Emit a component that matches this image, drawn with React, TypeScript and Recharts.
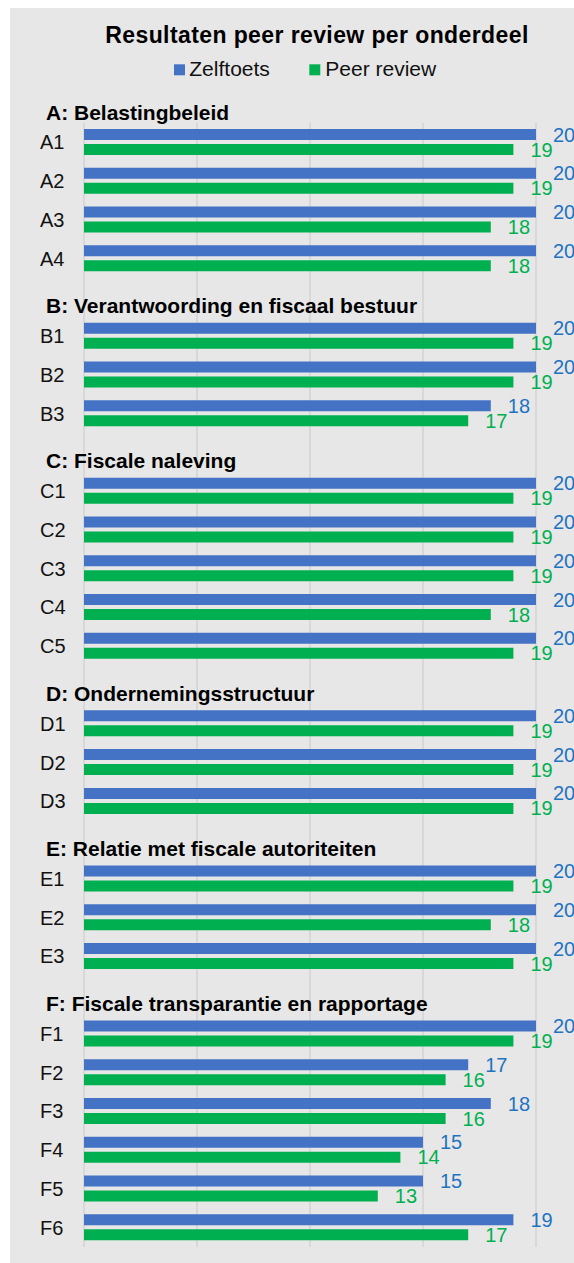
import { BarChart, Bar, XAxis, YAxis, CartesianGrid, LabelList } from 'recharts';

const categories = [
  'A: Belastingbeleid', 'A1', 'A2', 'A3', 'A4',
  'B: Verantwoording en fiscaal bestuur', 'B1', 'B2', 'B3',
  'C: Fiscale naleving', 'C1', 'C2', 'C3', 'C4', 'C5',
  'D: Ondernemingsstructuur', 'D1', 'D2', 'D3',
  'E: Relatie met fiscale autoriteiten', 'E1', 'E2', 'E3',
  'F: Fiscale transparantie en rapportage', 'F1', 'F2', 'F3', 'F4', 'F5', 'F6',
];

const zelftoets = [
  null, 20, 20, 20, 20,
  null, 20, 20, 18,
  null, 20, 20, 20, 20, 20,
  null, 20, 20, 20,
  null, 20, 20, 20,
  null, 20, 17, 18, 15, 15, 19,
];

const peerReview = [
  null, 19, 19, 18, 18,
  null, 19, 19, 17,
  null, 19, 19, 19, 18, 19,
  null, 19, 19, 19,
  null, 19, 18, 19,
  null, 19, 16, 16, 14, 13, 17,
];

const seriesNames = ['Zelftoets', 'Peer review'];
const xTicks = [0, 5, 10, 15, 20];

const data = categories.map((name, i) => ({
  name,
  zelftoets: zelftoets[i],
  peerReview: peerReview[i],
}));

const FONT = 'Arial, "Liberation Sans", sans-serif';
const BLUE = '#4472c4';
const GREEN = '#00b050';

function CategoryTick(props: any) {
  const { y, payload } = props;
  const label: string = payload.value;
  const isHeader = label.includes(':');
  if (isHeader) {
    return (
      <text x={36} y={y} dy={16} fontSize={21} fontWeight="bold" fill="#000" fontFamily={FONT}>
        {label}
      </text>
    );
  }
  return (
    <text x={30} y={y} dy={7} fontSize={20} fill="#111" fontFamily={FONT}>
      {label}
    </text>
  );
}

const fmt = (v: any) => (v === null || v === undefined ? '' : v);

export default function App() {
  const plotTop = 76.2;
  const plotBottom = 1239;
  const rowH = (plotBottom - plotTop) / categories.length;
  return (
    <div
      style={{
        position: 'fixed',
        left: 10,
        top: 8,
        width: 564,
        height: 1255,
        background: '#e7e7e7',
        fontFamily: FONT,
        overflow: 'visible',
      }}
    >
      <svg width={564} height={80} style={{ position: 'absolute', left: 0, top: 0 }}>
        <text x={307} y={35.3} textAnchor="middle" fontSize={23} fontWeight="bold" letterSpacing={0.4} fill="#000" fontFamily={FONT}>
          Resultaten peer review per onderdeel
        </text>
        <rect x={164} y={56.3} width={11} height={11} fill={BLUE} />
        <text x={179.3} y={67.7} fontSize={21} fill="#111" fontFamily={FONT}>{seriesNames[0]}</text>
        <rect x={299.3} y={56.3} width={11} height={11} fill={GREEN} />
        <text x={315.3} y={67.7} fontSize={21} fill="#111" fontFamily={FONT}>{seriesNames[1]}</text>
      </svg>
      <div style={{ position: 'absolute', left: 0, top: 0 }}>
        <BarChart
          width={564}
          height={1255}
          data={data}
          layout="vertical"
          margin={{ top: plotTop, right: 38, bottom: 1255 - plotBottom, left: 0 }}
          barSize={11}
          barGap={4}
          style={{ overflow: 'visible' }}
        >
          <CartesianGrid
            horizontal={false}
            stroke="#d3d3d3"
            strokeWidth={1.5}
            y={plotTop + rowH}
            height={plotBottom - plotTop - rowH}
          />
          <XAxis type="number" domain={[0, 20]} ticks={xTicks} hide />
          <YAxis
            type="category"
            dataKey="name"
            width={74}
            axisLine={false}
            tickLine={false}
            interval={0}
            tick={<CategoryTick />}
          />
          <Bar dataKey="zelftoets" name={seriesNames[0]} fill={BLUE} isAnimationActive={false}>
            <LabelList
              dataKey="zelftoets"
              position="right"
              offset={17}
              fill="#1f73c1"
              fontSize={20}
              fontFamily={FONT}
              formatter={fmt}
            />
          </Bar>
          <Bar dataKey="peerReview" name={seriesNames[1]} fill={GREEN} isAnimationActive={false}>
            <LabelList
              dataKey="peerReview"
              position="right"
              offset={17}
              fill={GREEN}
              fontSize={20}
              fontFamily={FONT}
              formatter={fmt}
            />
          </Bar>
        </BarChart>
      </div>
    </div>
  );
}
